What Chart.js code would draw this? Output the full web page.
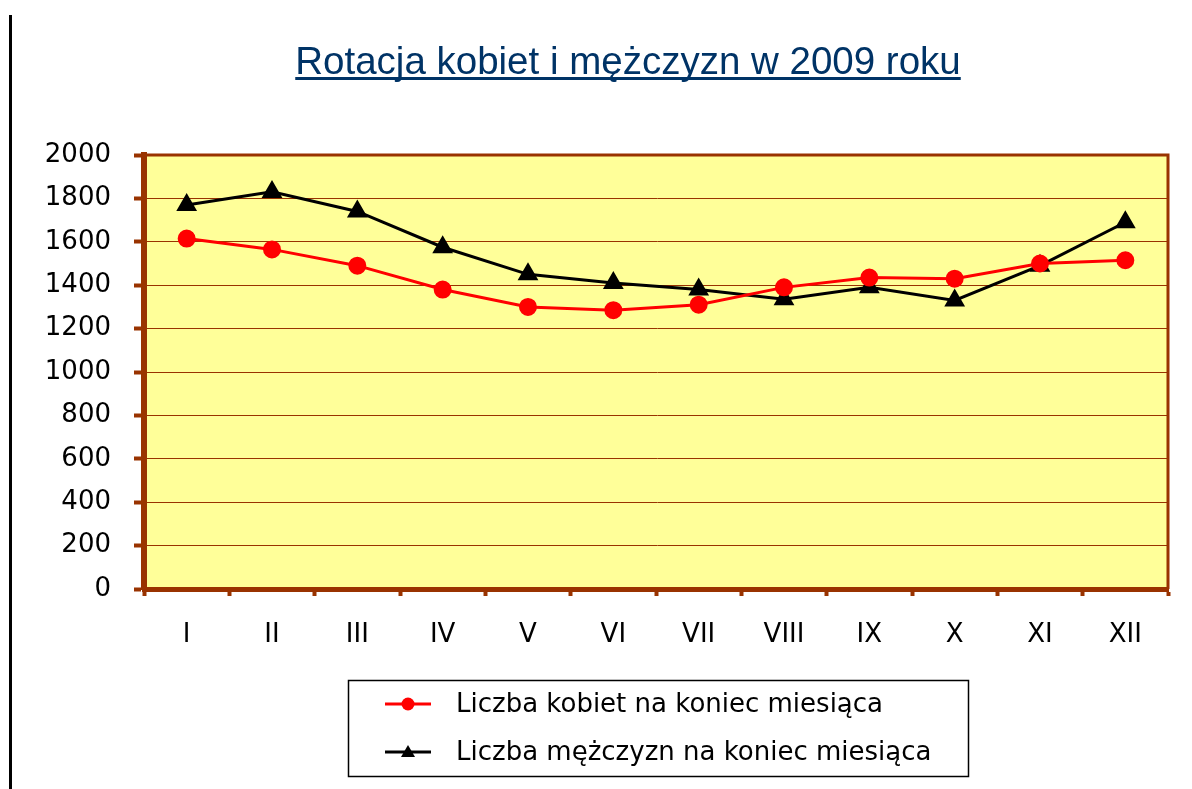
<!DOCTYPE html>
<html>
<head>
<meta charset="utf-8">
<script src="https://cdn.jsdelivr.net/npm/chart.js@4/dist/chart.umd.min.js"></script>
<style>
  body { margin: 0; background: #fff; }
  canvas { display: block; }
</style>
</head>
<body>
<canvas id="chart" width="1192" height="789"></canvas>
<script>
const months = ['I', 'II', 'III', 'IV', 'V', 'VI', 'VII', 'VIII', 'IX', 'X', 'XI', 'XII'];
const women = [1615, 1565, 1490, 1380, 1300, 1285, 1310, 1390, 1435, 1430, 1500, 1515];
const men = [1770, 1830, 1740, 1575, 1450, 1410, 1380, 1335, 1390, 1330, 1490, 1690];
const yMin = 0, yMax = 2000, yStep = 200;
const titleText = 'Rotacja kobiet i mężczyzn w 2009 roku';
const seriesNames = ['Liczba kobiet na koniec miesiąca', 'Liczba mężczyzn na koniec miesiąca'];

const brown = '#993300';

// background, frame, title, custom legend, page edge line
const decor = {
  id: 'decor',
  beforeDraw(chart) {
    const { ctx, chartArea: a } = chart;
    ctx.save();
    ctx.fillStyle = '#FFFF99';
    ctx.fillRect(a.left, a.top, a.width, a.height);
    ctx.restore();
  },
  beforeDatasetsDraw(chart) {
    const { ctx, chartArea: a } = chart;
    ctx.save();
    ctx.strokeStyle = brown;
    ctx.lineWidth = 3;
    ctx.beginPath();
    ctx.moveTo(a.left, a.top);
    ctx.lineTo(a.right, a.top);
    ctx.lineTo(a.right, a.bottom);
    ctx.stroke();
    ctx.restore();
  },
  afterDraw(chart) {
    const ctx = chart.ctx;
    ctx.save();
    // left page line
    ctx.fillStyle = '#000';
    ctx.fillRect(9, 15, 3, 789);

    // title
    ctx.font = '38.5px "Liberation Sans", Arial, sans-serif';
    ctx.fillStyle = '#003366';
    ctx.textAlign = 'center';
    ctx.textBaseline = 'alphabetic';
    ctx.fillText(titleText, 628, 74);
    const w = ctx.measureText(titleText).width;
    ctx.fillRect(628 - w / 2, 77, w, 3);

    // legend box
    ctx.strokeStyle = '#000';
    ctx.lineWidth = 1.5;
    ctx.strokeRect(348.5, 680.5, 620, 96);
    ctx.font = '26px "DejaVu Sans", sans-serif';
    ctx.textAlign = 'left';
    ctx.textBaseline = 'middle';
    const rows = [704, 752];
    chart.data.datasets.forEach((ds, i) => {
      const y = rows[i];
      ctx.strokeStyle = ds.borderColor;
      ctx.lineWidth = 3;
      ctx.beginPath();
      ctx.moveTo(385, y);
      ctx.lineTo(431, y);
      ctx.stroke();
      ctx.fillStyle = ds.pointBackgroundColor;
      const cx = 408;
      if (ds.pointStyle === 'circle') {
        ctx.beginPath();
        ctx.arc(cx, y, 6.5, 0, Math.PI * 2);
        ctx.fill();
      } else {
        ctx.beginPath();
        ctx.moveTo(cx, y - 7);
        ctx.lineTo(cx + 7, y + 5);
        ctx.lineTo(cx - 7, y + 5);
        ctx.closePath();
        ctx.fill();
      }
      ctx.fillStyle = '#000';
      ctx.fillText(ds.label, 456, y + 1);
    });
    ctx.restore();
  }
};

new Chart(document.getElementById('chart'), {
  type: 'line',
  data: {
    labels: months,
    datasets: [
      {
        label: seriesNames[0],
        data: women,
        borderColor: '#FF0000',
        backgroundColor: '#FF0000',
        pointBackgroundColor: '#FF0000',
        pointBorderColor: '#FF0000',
        pointStyle: 'circle',
        pointRadius: 7.5,
        borderWidth: 3,
        tension: 0
      },
      {
        label: seriesNames[1],
        data: men,
        borderColor: '#000000',
        backgroundColor: '#000000',
        pointBackgroundColor: '#000000',
        pointBorderColor: '#000000',
        pointStyle: 'triangle',
        pointRadius: 9,
        borderWidth: 3,
        tension: 0
      }
    ]
  },
  options: {
    responsive: false,
    animation: false,
    layout: { padding: { top: 155, right: 24, bottom: 140, left: 0 } },
    plugins: {
      legend: { display: false },
      title: { display: false },
      tooltip: { enabled: false }
    },
    scales: {
      x: {
        offset: true,
        afterFit: (s) => { s.height = 60; },
        grid: {
          offset: true,
          drawOnChartArea: false,
          drawTicks: true,
          tickLength: 7,
          tickWidth: 4,
          tickColor: brown
        },
        border: { color: brown, width: 5 },
        ticks: {
          color: '#000',
          padding: 24,
          maxRotation: 0,
          font: { family: '"DejaVu Sans", sans-serif', size: 26 }
        }
      },
      y: {
        min: yMin,
        max: yMax,
        afterFit: (s) => { s.width = 144; },
        grid: {
          color: brown,
          lineWidth: 1,
          drawTicks: true,
          tickLength: 10,
          tickWidth: 4,
          tickColor: brown
        },
        border: { color: brown, width: 6 },
        ticks: {
          stepSize: yStep,
          color: '#000',
          padding: 23,
          callback: (v) => String(v),
          font: { family: '"DejaVu Sans", sans-serif', size: 26 }
        }
      }
    }
  },
  plugins: [decor]
});
</script>
</body>
</html>
